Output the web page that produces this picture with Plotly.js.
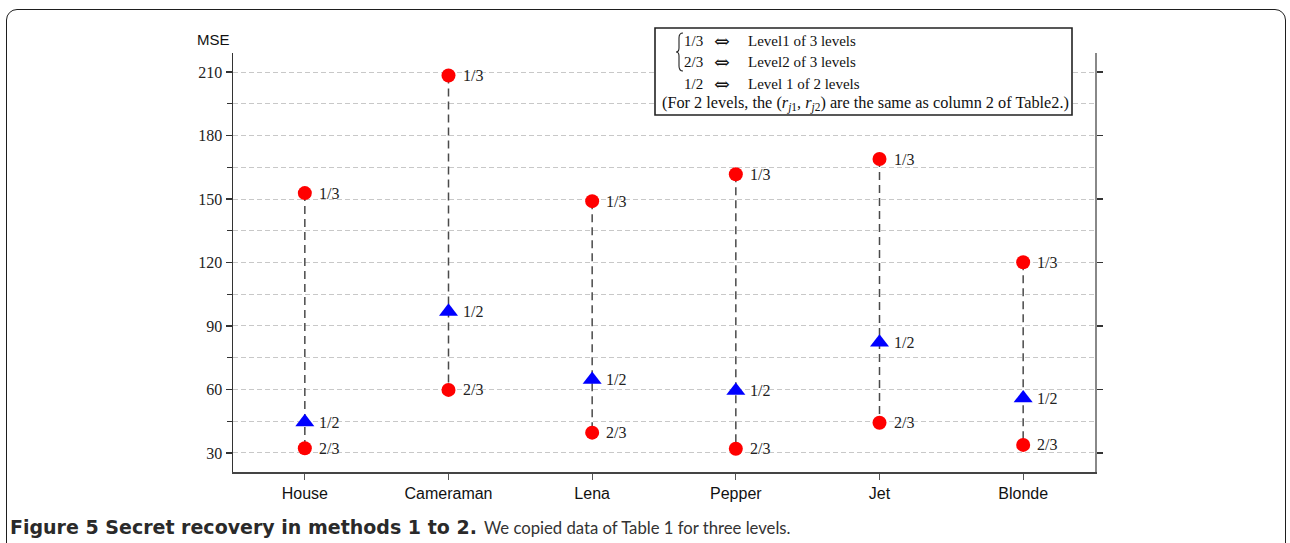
<!DOCTYPE html>
<html>
<head>
<meta charset="utf-8">
<script src="https://cdn.plot.ly/plotly-3.0.1.min.js"></script>
<style>
  html, body { margin: 0; padding: 0; background: #fff; overflow: hidden; }
  #wrap { position: relative; width: 1290px; height: 543px; }
  #chart { position: absolute; left: 0; top: 0; width: 1290px; height: 543px; }
  #frame { position: absolute; left: 6px; top: 9px; width: 1280px; height: 600px;
           border: 1.6px solid #1e1e1e; border-radius: 11px; pointer-events: none; box-sizing: border-box; }
</style>
</head>
<body>
<div id="wrap">
  <div id="chart"></div>
  <div id="frame"></div>
</div>
<script>
// ---- data ----
const categories = ['House', 'Cameraman', 'Lena', 'Pepper', 'Jet', 'Blonde'];
const level1of3 = [152.8, 208.4, 149.0, 161.7, 168.9, 120.1];   // "1/3"
const level2of3 = [32.2, 59.8, 39.6, 32.0, 44.3, 33.8];         // "2/3"
const level1of2 = [44.6, 96.8, 64.6, 59.4, 82.2, 55.9];         // "1/2"
const seriesLabels = ['1/3', '2/3', '1/2'];
const yTicks = [30, 60, 90, 120, 150, 180, 210];
const captionBold = 'Figure 5 Secret recovery in methods 1 to 2.';
const captionRest = 'We copied data of Table 1 for three levels.';

// ---- geometry helpers (pixel -> paper) ----
const W = 1290, H = 543;
const M = { l: 233, r: 195, t: 53, b: 71 };
const PW = W - M.l - M.r, PH = H - M.t - M.b;
const px = x => (x - M.l) / PW;
const py = y => (H - M.b - y) / PH;

const serif = 'Liberation Serif, Times New Roman, serif';
const sans = 'Liberation Sans, Arial, sans-serif';

// vertical dashed connectors
const lx = [], ly = [];
categories.forEach((c, i) => { lx.push(c, c, null); ly.push(level1of3[i], level2of3[i], null); });

const traces = [
  { x: lx, y: ly, type: 'scatter', mode: 'lines', hoverinfo: 'skip', showlegend: false,
    line: { color: '#4a4a4a', width: 1.5, dash: '8px,5px' } },
  { x: categories, y: level1of3, type: 'scatter', mode: 'markers', name: seriesLabels[0], showlegend: false,
    marker: { symbol: 'circle', size: 14, color: '#ff0000' } },
  { x: categories, y: level2of3, type: 'scatter', mode: 'markers', name: seriesLabels[1], showlegend: false,
    marker: { symbol: 'circle', size: 14, color: '#ff0000' } },
  { x: categories, y: level1of2, type: 'scatter', mode: 'markers', name: seriesLabels[2], showlegend: false,
    marker: { symbol: 'triangle-up', size: 16.5, color: '#0000ff' } },
  { x: categories, y: level1of3, type: 'scatter', mode: 'markers', yaxis: 'y2', hoverinfo: 'skip',
    showlegend: false, marker: { opacity: 0 } }
];

const annotations = [];
// point labels
[[level1of3, seriesLabels[0]], [level2of3, seriesLabels[1]], [level1of2, seriesLabels[2]]].forEach(([arr, lab]) => {
  categories.forEach((c, i) => {
    annotations.push({ x: c, y: arr[i], xref: 'x', yref: 'y', text: lab, showarrow: false,
      xanchor: 'left', yanchor: 'middle', xshift: 12, font: { family: serif, size: 16, color: '#222' } });
  });
});
// y-axis title
annotations.push({ x: px(213), y: py(40), xref: 'paper', yref: 'paper', text: 'MSE', showarrow: false,
  xanchor: 'center', yanchor: 'middle', font: { family: sans, size: 15, color: '#111' } });

// legend box texts
const legRows = [
  { y: 41, a: '1/3', b: 'Level1 of 3 levels' },
  { y: 62.5, a: '2/3', b: 'Level2 of 3 levels' },
  { y: 84, a: '1/2', b: 'Level 1 of 2 levels' }
];
legRows.forEach(r => {
  annotations.push({ x: px(682), y: py(r.y), xref: 'paper', yref: 'paper', text: r.a, showarrow: false,
    xanchor: 'left', yanchor: 'middle', font: { family: serif, size: 15, color: '#111' } });
  annotations.push({ x: px(722), y: py(r.y), xref: 'paper', yref: 'paper', text: '⇔', showarrow: false,
    xanchor: 'center', yanchor: 'middle', font: { family: 'DejaVu Serif, DejaVu Sans, serif', size: 19, color: '#111' } });
  annotations.push({ x: px(746), y: py(r.y), xref: 'paper', yref: 'paper', text: r.b, showarrow: false,
    xanchor: 'left', yanchor: 'middle', font: { family: serif, size: 15, color: '#111' } });
});
annotations.push({ x: px(660), y: py(104), xref: 'paper', yref: 'paper',
  text: '(For 2 levels, the (<i>r</i><sub><i>j</i>1</sub>, <i>r</i><sub><i>j</i>2</sub>) are the same as column 2 of Table2.)',
  showarrow: false, xanchor: 'left', yanchor: 'middle', font: { family: serif, size: 16.3, color: '#111' } });

// caption (bold lead + regular text)
annotations.push({ x: px(8), y: py(527), xref: 'paper', yref: 'paper',
  text: '<b>' + captionBold + '</b>', showarrow: false, xanchor: 'left', yanchor: 'middle',
  font: { family: 'DejaVu Sans, sans-serif', size: 19, color: '#2a2a2a' } });
annotations.push({ x: px(482), y: py(528), xref: 'paper', yref: 'paper',
  text: captionRest, showarrow: false, xanchor: 'left', yanchor: 'middle',
  font: { family: 'Lato, sans-serif', size: 16.7, color: '#333' } });

// brace path for rows 1-2
const bx0 = 679, bx1 = 683, byT = 33, byB = 71, byM = (byT + byB) / 2;
const P = (x, y) => px(x) + ',' + py(y);
const bracePath = 'M' + P(bx1, byT) + ' Q' + P(bx0, byT) + ' ' + P(bx0, byT + 5) +
  ' L' + P(bx0, byM - 4) + ' Q' + P(bx0, byM) + ' ' + P(bx0 - 3, byM) +
  ' Q' + P(bx0, byM) + ' ' + P(bx0, byM + 4) +
  ' L' + P(bx0, byB - 5) + ' Q' + P(bx0, byB) + ' ' + P(bx1, byB);

const shapes = [
  { type: 'rect', xref: 'paper', yref: 'paper', x0: px(655), x1: px(1072), y0: py(115), y1: py(28),
    line: { color: '#222', width: 1.6 }, fillcolor: '#ffffff', layer: 'above' },
  { type: 'path', xref: 'paper', yref: 'paper', path: bracePath, line: { color: '#222', width: 1.1 }, layer: 'above' }
];

const layout = {
  width: W, height: H,
  margin: M,
  paper_bgcolor: '#ffffff', plot_bgcolor: '#ffffff',
  showlegend: false,
  xaxis: {
    type: 'category', range: [-0.5, 5.5], showgrid: false, zeroline: false,
    showline: true, linecolor: '#444', linewidth: 1.5,
    ticks: 'outside', ticklen: 6, tickwidth: 1.2, tickcolor: '#555',
    tickfont: { family: sans, size: 16, color: '#111' }
  },
  yaxis: {
    range: [21, 219], tickvals: yTicks, ticktext: yTicks.map(String), zeroline: false,
    showline: true, linecolor: '#333', linewidth: 1.5,
    ticks: 'outside', ticklen: 6, tickwidth: 1.2, tickcolor: '#333',
    showgrid: true, gridcolor: '#c8c8c8', gridwidth: 1, griddash: '5px,3px',
    tickfont: { family: serif, size: 16, color: '#222' },
    minor: { dtick: 15, tick0: 0, ticks: 'outside', ticklen: 5, tickcolor: '#333', tickwidth: 1.2,
             showgrid: true, gridcolor: '#c8c8c8', gridwidth: 1, griddash: '5px,3px' }
  },
  yaxis2: {
    overlaying: 'y', side: 'right', range: [21, 219], tickvals: yTicks, showticklabels: false,
    showgrid: false, zeroline: false, showline: true, linecolor: '#888', linewidth: 1.5,
    ticks: 'outside', ticklen: 6, tickwidth: 1.2, tickcolor: '#333'
  },
  annotations: annotations,
  shapes: shapes
};

Plotly.newPlot('chart', traces, layout, { staticPlot: true, displayModeBar: false });
</script>
</body>
</html>
